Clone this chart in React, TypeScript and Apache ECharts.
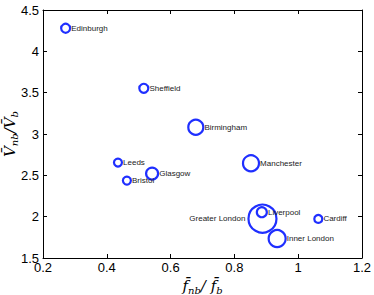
import React, { useEffect, useRef } from "react";
import * as echarts from "echarts";

const cities = ["Edinburgh", "Sheffield", "Birmingham", "Leeds", "Bristol", "Glasgow", "Manchester", "Greater London", "Liverpool", "Inner London", "Cardiff"];
const fRatio = [0.271, 0.516, 0.679, 0.435, 0.463, 0.542, 0.852, 0.888, 0.886, 0.934, 1.063];
const vRatio = [4.279, 3.553, 3.082, 2.654, 2.436, 2.521, 2.646, 1.976, 2.054, 1.735, 1.973];
const markerSize = [9, 9, 15, 8, 8, 12, 16, 28, 10, 17, 8];
const labelLeft = ["Greater London"];

const BLUE = "#1f2fff";
const FONT = "'Liberation Sans', Arial, Helvetica, sans-serif";

export default function App() {
  const ref = useRef<HTMLDivElement>(null);
  useEffect(() => {
    if (!ref.current) return;
    const chart = echarts.init(ref.current, undefined, { renderer: "svg" });
    const data = cities.map((c, i) => ({
      name: c,
      value: [fRatio[i], vRatio[i], markerSize[i]],
      label: labelLeft.includes(c)
        ? { position: "left", distance: 2 }
        : { position: "right", distance: 0 },
    }));
    const tickLabel = { fontSize: 13, color: "#000", fontFamily: FONT, formatter: (v: number) => String(+v.toFixed(2)) };
    const rich = {
      i: { fontFamily: "'DejaVu Serif', serif", fontStyle: "italic", fontSize: 15, color: "#000" },
      s: { fontFamily: "'DejaVu Serif', serif", fontStyle: "italic", fontSize: 10, color: "#000", padding: [8, 0, 0, 0] },
    };
    chart.setOption({
      animation: false,
      grid: { left: 43, right: 12, top: 10, bottom: 37, containLabel: false, outerBoundsMode: "none" },
      xAxis: [
        {
          type: "value", min: 0.2, max: 1.2, interval: 0.2,
          axisLine: { show: true, onZero: false, lineStyle: { color: "#000", width: 1 } },
          axisTick: { show: true, inside: true, length: 4, lineStyle: { color: "#000" } },
          axisLabel: { ...tickLabel, margin: 3 },
          splitLine: { show: false },
          name: "{i|f̄}{s|nb}{i|/ f̄}{s|b}",
          nameLocation: "middle", nameGap: 16,
          nameTextStyle: { rich },
        },
        {
          type: "value", position: "top", min: 0.2, max: 1.2, interval: 0.2,
          axisLine: { show: true, onZero: false, lineStyle: { color: "#000", width: 1 } },
          axisTick: { show: true, inside: true, length: 4, lineStyle: { color: "#000" } },
          axisLabel: { show: false }, splitLine: { show: false },
        },
      ],
      yAxis: [
        {
          type: "value", min: 1.5, max: 4.5, interval: 0.5,
          axisLine: { show: true, onZero: false, lineStyle: { color: "#000", width: 1 } },
          axisTick: { show: true, inside: true, length: 4, lineStyle: { color: "#000" } },
          axisLabel: { ...tickLabel, margin: 4 },
          splitLine: { show: false },
          name: "{i|V̄}{s|nb}{i|/V̄}{s|b}",
          nameLocation: "middle", nameGap: 24, nameRotate: 90, nameMoveOverlap: false,
          nameTextStyle: { rich },
        },
        {
          type: "value", position: "right", min: 1.5, max: 4.5, interval: 0.5,
          axisLine: { show: true, onZero: false, lineStyle: { color: "#000", width: 1 } },
          axisTick: { show: true, inside: true, length: 4, lineStyle: { color: "#000" } },
          axisLabel: { show: false }, splitLine: { show: false },
        },
      ],
      series: [
        {
          type: "scatter",
          xAxisIndex: 0, yAxisIndex: 0,
          data,
          symbol: "circle",
          symbolSize: (v: number[]) => v[2],
          itemStyle: { color: "rgba(0,0,0,0)", borderColor: BLUE, borderWidth: 2.2, opacity: 1 },
          label: {
            show: true,
            formatter: "{b}",
            fontSize: 8,
            color: "#222",
            fontFamily: FONT,
          },
          labelLayout: { hideOverlap: false },
        },
      ],
    });
    return () => chart.dispose();
  }, []);
  return <div ref={ref} style={{ width: 374, height: 295, position: "absolute", left: 0, top: 0, background: "#fff" }} />;
}
